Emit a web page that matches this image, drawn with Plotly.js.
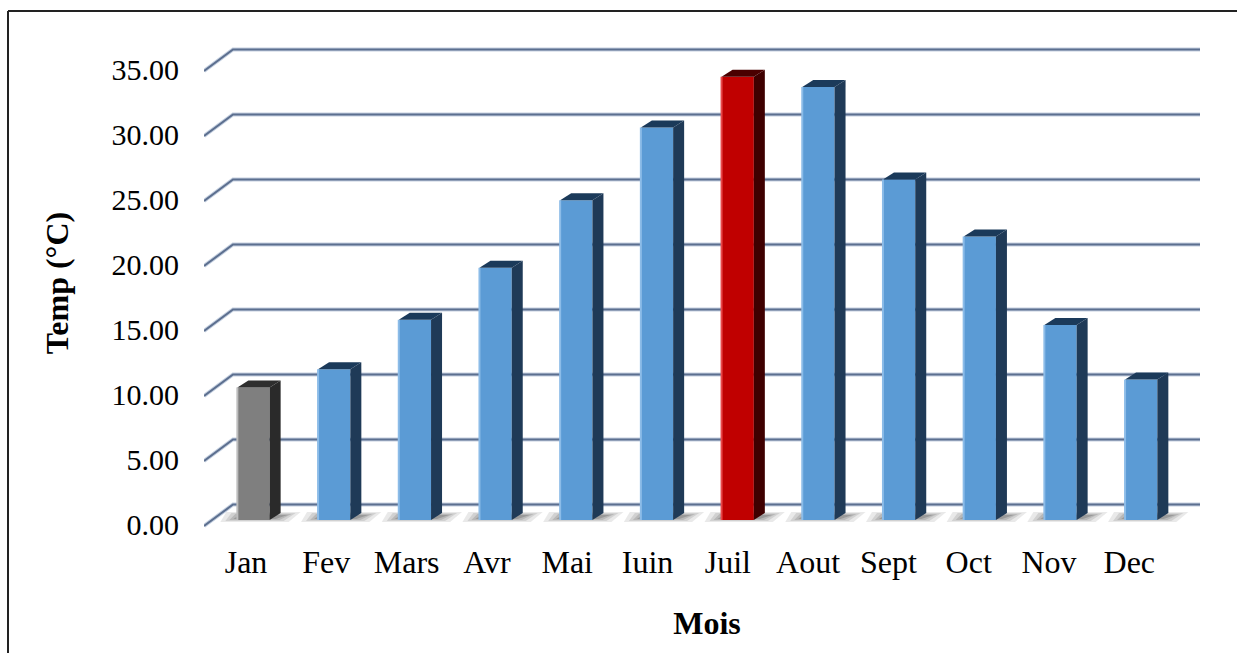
<!DOCTYPE html>
<html>
<head>
<meta charset="utf-8">
<script src="https://cdn.plot.ly/plotly-3.0.1.min.js"></script>
<style>html,body{margin:0;padding:0;background:#fff}#chart{width:1237px;height:653px}</style>
</head>
<body>
<div id="chart"></div>
<script>
const months = ['Jan','Fev','Mars','Avr','Mai','Iuin','Juil','Aout','Sept','Oct','Nov','Dec'];
const temps = [10.2,11.6,15.4,19.4,24.6,30.2,34.1,33.3,26.2,21.8,15.0,10.8];
const yTicks = [0,5,10,15,20,25,30,35];
const yTickLabels = ['0.00','5.00','10.00','15.00','20.00','25.00','30.00','35.00'];
const coldMonth = 'Jan';
const hotMonth = 'Juil';

const W = 1237, H = 653;
const plot = {l:204, r:1210, t:38, b:528};
const unitY = 13;                 // px per degree
const barPitch = 80.7, barX0 = 253.5, barW = 0.4;
const labelPitch = 80.3, labelX0 = 246;
const frontY0 = 524.5, barY0 = 520, backY0 = 504.5;
const depthX = 11, depthY = 7;    // side-face depth in px
const gridBackX = 233, gridEndX = 1200;

const styles = {
  normal:{front:'#5B9BD5', side:'#1F3A57', top:'#1B3A5A', edge:'#8CBCE8'},
  cold:{front:'#7F7F7F', side:'#2A2A2A', top:'#2E2E2E', edge:'#BDBDBD'},
  hot:{front:'#C00000', side:'#3F0000', top:'#4A0000', edge:'#E8484A'}
};
const styleOf = m => m === coldMonth ? styles.cold : m === hotMonth ? styles.hot : styles.normal;

// axis helpers
const lx = px => (px - labelX0) / labelPitch;
const ly = py => (frontY0 - py) / unitY;
const backOff = (frontY0 - backY0) / unitY;

const traces = [];
const skip = {hoverinfo:'skip', showlegend:false};

// soft shadows beneath the bars
const shadowLayers = [
  {grow:13, up:8, down:2,  c:'rgba(200,200,200,0.40)'},
  {grow:8,  up:7, down:1,  c:'rgba(180,180,180,0.45)'},
  {grow:4,  up:6, down:0,  c:'rgba(160,160,160,0.50)'},
  {grow:0,  up:5, down:-1, c:'rgba(130,130,130,0.55)'}
];
months.forEach((m,i)=>{
  const c = barX0 + i*barPitch, hw = barW*barPitch/2;
  shadowLayers.forEach(s=>{
    traces.push(Object.assign({type:'scatter', mode:'lines', xaxis:'x', yaxis:'y', fill:'toself',
      fillcolor:s.c, line:{width:0},
      x:[c-hw-s.grow-4, c+hw+s.grow+6, c+hw+s.grow+18, c-hw-s.grow+2].map(lx),
      y:[barY0+s.down, barY0+s.down, barY0-s.up, barY0-s.up].map(ly)}, skip));
  });
});

// back wall grid lines with their left-side slant
const gridX = [plot.l, gridBackX, gridEndX].map(lx);
yTicks.forEach(v=>{
  const y = [v-1.5/unitY, v+backOff, v+backOff];
  traces.push(Object.assign({type:'scatter', mode:'lines', xaxis:'x', yaxis:'y', x:gridX, y:y,
    line:{color:'#C5D0E0', width:4}}, skip));
  traces.push(Object.assign({type:'scatter', mode:'lines', xaxis:'x', yaxis:'y', x:gridX, y:y,
    line:{color:'#5C6F8F', width:2}}, skip));
});

// bars
const xIdx = months.map((m,i)=>i);
traces.push({type:'bar', xaxis:'x2', yaxis:'y2', x:xIdx, y:temps, width:barW,
  customdata:months, textposition:'none', hovertemplate:'%{customdata}: %{y:.2f} °C<extra></extra>', showlegend:false,
  marker:{color:months.map(m=>styleOf(m).front), line:{width:0}}});

// side / top faces and left highlight
const dx = depthX/barPitch, dy = depthY/unitY, hw = barW/2;
months.forEach((m,i)=>{
  const s = styleOf(m), v = temps[i];
  traces.push(Object.assign({type:'scatter', mode:'lines', xaxis:'x2', yaxis:'y2', fill:'toself',
    fillcolor:s.side, line:{width:0},
    x:[i+hw, i+hw+dx, i+hw+dx, i+hw], y:[0, dy, v+dy, v]}, skip));
  traces.push(Object.assign({type:'scatter', mode:'lines', xaxis:'x2', yaxis:'y2', fill:'toself',
    fillcolor:s.top, line:{width:0},
    x:[i-hw, i-hw+dx, i+hw+dx, i+hw], y:[v, v+dy, v+dy, v]}, skip));
  traces.push(Object.assign({type:'scatter', mode:'lines', xaxis:'x2', yaxis:'y2',
    line:{color:s.edge, width:2}, x:[i-hw, i-hw], y:[0, v]}, skip));
});

const font = 'Liberation Serif, Times New Roman, serif';
const paperX = px => (px-plot.l)/(plot.r-plot.l);
const paperY = py => (plot.b-py)/(plot.b-plot.t);

const layout = {
  width:W, height:H,
  margin:{l:plot.l, r:W-plot.r, t:plot.t, b:H-plot.b, pad:0},
  paper_bgcolor:'#fff', plot_bgcolor:'rgba(0,0,0,0)',
  font:{family:font, size:30, color:'#000'},
  showlegend:false, barmode:'overlay',
  xaxis:{range:[lx(plot.l), lx(plot.r)], tickmode:'array', tickvals:xIdx, ticktext:months,
    showgrid:false, zeroline:false, showline:false, ticks:'outside', ticklen:6,
    tickcolor:'rgba(0,0,0,0)', tickfont:{family:font, size:32, color:'#000'},
    title:{text:'<b>Mois</b>', font:{family:font, size:32, color:'#000'}, standoff:32}},
  yaxis:{range:[ly(plot.b), ly(plot.t)], tickmode:'array', tickvals:yTicks, ticktext:yTickLabels,
    showgrid:false, zeroline:false, showline:false, ticks:'outside', ticklen:18,
    tickcolor:'rgba(0,0,0,0)', tickfont:{family:font, size:30, color:'#000'},
    title:{text:'<b>Temp (°C)</b>', font:{family:font, size:32, color:'#000'}, standoff:33}},
  xaxis2:{overlaying:'x', visible:false,
    range:[(plot.l-barX0)/barPitch, (plot.r-barX0)/barPitch]},
  yaxis2:{overlaying:'y', visible:false,
    range:[(barY0-plot.b)/unitY, (barY0-plot.t)/unitY]},
  shapes:[
    {type:'line', xref:'paper', yref:'paper', x0:paperX(8), x1:paperX(W), y0:paperY(11), y1:paperY(11),
      line:{color:'#222', width:2}},
    {type:'line', xref:'paper', yref:'paper', x0:paperX(8), x1:paperX(8), y0:paperY(11), y1:paperY(H),
      line:{color:'#222', width:2}}
  ]
};
Plotly.newPlot('chart', traces, layout, {displayModeBar:false, responsive:false});
</script>
</body>
</html>
